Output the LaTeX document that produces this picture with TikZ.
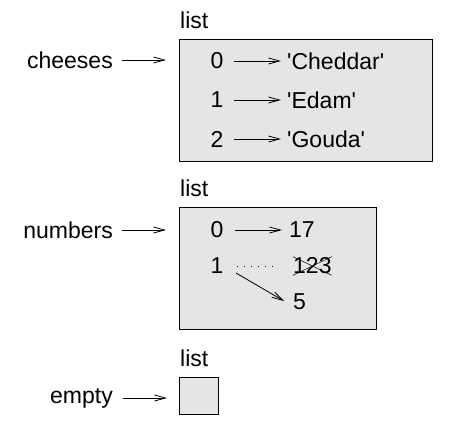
\documentclass[tikz,border=0pt]{standalone}
\usepackage{fontspec}
\setmainfont{Liberation Sans}[Ligatures=TeXOff]
\usetikzlibrary{arrows.meta,calc}
\begin{document}
\begin{tikzpicture}[x=1pt,y=-1pt,
  txt/.style={inner sep=0pt,font=\fontsize{23pt}{27pt}\selectfont},
  listbox/.style={draw,line width=1.1pt,fill=black!10,inner sep=0pt,anchor=north west},
  ptr/.style={line width=0.8pt,-{Straight Barb[length=11pt,width=6pt,line width=0.8pt]}},
  xline/.style={line width=0.5pt}]
\useasboundingbox (0,0) rectangle (455,426);
% cheeses
\node[txt,anchor=west] (l1) at (180,20) {list};
\node[listbox,minimum width=253pt,minimum height=122pt] (b1) at (179,39) {};
\node[txt,anchor=east] (v1) at (113,60) {cheeses};
\draw[ptr,shorten <=9pt,shorten >=13pt] (v1.east) -- (v1.east -| b1.west);
\node[txt] (i0) at (217,61) {0};
\node[txt] (i1) at (217,100) {1};
\node[txt] (i2) at (217,139) {2};
\node[txt,anchor=west] (c0) at (287,61) {'Cheddar'};
\node[txt,anchor=west] (c1) at (287,100) {'Edam'};
\node[txt,anchor=west] (c2) at (287,139) {'Gouda'};
\draw[ptr,shorten <=17pt,shorten >=6pt] (i0.center) -- (c0.west);
\draw[ptr,shorten <=17pt,shorten >=6pt] (i1.center) -- (c1.west);
\draw[ptr,shorten <=17pt,shorten >=6pt] (i2.center) -- (c2.west);
% numbers
\node[txt,anchor=west] (l2) at (180,188) {list};
\node[listbox,minimum width=197pt,minimum height=122pt] (b2) at (179,207) {};
\node[txt,anchor=east] (v2) at (113,230) {numbers};
\draw[ptr,shorten <=9pt,shorten >=13pt] (v2.east) -- (v2.east -| b2.west);
\node[txt] (n0) at (217,230) {0};
\node[txt] (n1) at (217,266) {1};
\node[txt,anchor=west] (s17) at (289,230) {17};
\node[txt,anchor=west] (s123) at (293,266) {123};
\node[txt,anchor=west] (s5) at (293,302) {5};
\draw[ptr,shorten <=18pt,shorten >=7pt] (n0.center) -- (s17.west);
\draw[line width=1pt,dash pattern=on 1pt off 6pt] ($(n1.center)+(20,0)$) -- ($(s123.west)+(-14,0)$);
\draw[xline] ($(s123.north west)+(0,-1)$) -- ($(s123.south east)+(0,1)$);
\draw[xline] ($(s123.south west)+(0,1)$) -- ($(s123.north east)+(0,-1)$);
\draw[ptr] ($(n1.center)+(19,7)$) -- ($(s5.west)+(-9,-1)$);
% empty
\node[txt,anchor=west] (l3) at (180,358) {list};
\node[listbox,minimum width=39pt,minimum height=37pt] (b3) at (179,377) {};
\node[txt,anchor=east] (v3) at (113,398) {empty};
\draw[ptr,shorten <=10pt,shorten >=12pt] (v3.east) -- (v3.east -| b3.west);
\end{tikzpicture}
\end{document}
